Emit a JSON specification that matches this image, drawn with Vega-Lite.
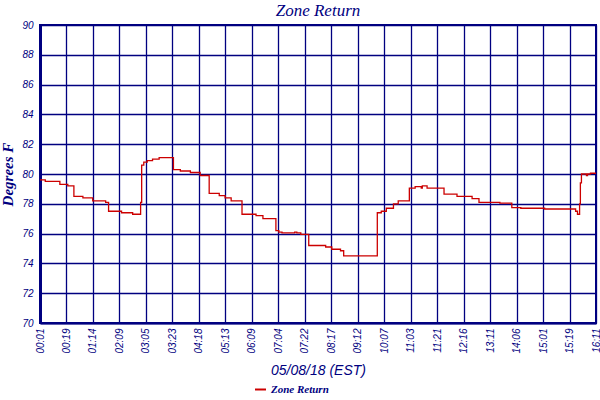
{
  "$schema": "https://vega.github.io/schema/vega-lite/v6.json",
  "width": 556,
  "height": 298,
  "autosize": {"type": "none"},
  "padding": {"left": 40, "top": 25, "right": 4, "bottom": 77},
  "background": "white",
  "title": {
    "text": "Zone Return",
    "font": "Liberation Serif",
    "fontSize": 17,
    "fontStyle": "italic",
    "fontWeight": "normal",
    "color": "#000080",
    "offset": 0
  },
  "config": {
    "view": {"stroke": "#000080", "strokeWidth": 2},
    "axis": {
      "labelFont": "Liberation Sans",
      "labelFontStyle": "italic",
      "labelColor": "#000080",
      "labelFontSize": 10,
      "titleColor": "#000080",
      "titleFontStyle": "italic",
      "titleFontWeight": "bold",
      "gridColor": "#000080",
      "gridOpacity": 1,
      "gridWidth": 1.3,
      "tickSize": 0,
      "domainColor": "#000080"
    }
  },
  "data": {
    "values": [
      {"t": 0, "v": 79.6},
      {"t": 0.2, "v": 79.5},
      {"t": 0.75, "v": 79.3},
      {"t": 1.05, "v": 79.2},
      {"t": 1.28, "v": 78.5},
      {"t": 1.62, "v": 78.4},
      {"t": 1.99, "v": 78.2},
      {"t": 2.48, "v": 78.1},
      {"t": 2.59, "v": 77.5},
      {"t": 3.08, "v": 77.4},
      {"t": 3.5, "v": 77.3},
      {"t": 3.8, "v": 78.1},
      {"t": 3.84, "v": 80.6},
      {"t": 3.92, "v": 80.8},
      {"t": 4.05, "v": 80.9},
      {"t": 4.25, "v": 81.0},
      {"t": 4.5, "v": 81.1},
      {"t": 5.04, "v": 80.3},
      {"t": 5.3, "v": 80.2},
      {"t": 5.68, "v": 80.1},
      {"t": 6.05, "v": 79.9},
      {"t": 6.39, "v": 78.7},
      {"t": 6.77, "v": 78.55},
      {"t": 6.99, "v": 78.4},
      {"t": 7.22, "v": 78.2},
      {"t": 7.63, "v": 77.3},
      {"t": 8.16, "v": 77.2},
      {"t": 8.42, "v": 77.0},
      {"t": 8.91, "v": 76.2},
      {"t": 9.02, "v": 76.1},
      {"t": 9.14, "v": 76.05},
      {"t": 9.62, "v": 76.1},
      {"t": 9.7, "v": 76.05},
      {"t": 9.85, "v": 75.95},
      {"t": 10.15, "v": 75.2},
      {"t": 10.79, "v": 75.1},
      {"t": 11.02, "v": 74.95},
      {"t": 11.35, "v": 74.85},
      {"t": 11.47, "v": 74.5},
      {"t": 12.74, "v": 77.4},
      {"t": 12.89, "v": 77.5},
      {"t": 13.08, "v": 77.7},
      {"t": 13.35, "v": 78.0},
      {"t": 13.53, "v": 78.2},
      {"t": 13.95, "v": 79.05},
      {"t": 14.17, "v": 79.15},
      {"t": 14.4, "v": 79.05},
      {"t": 14.44, "v": 79.2},
      {"t": 14.62, "v": 79.05},
      {"t": 15.26, "v": 78.65},
      {"t": 15.75, "v": 78.5},
      {"t": 16.32, "v": 78.35},
      {"t": 16.58, "v": 78.1},
      {"t": 17.37, "v": 78.05},
      {"t": 17.82, "v": 77.75},
      {"t": 18.16, "v": 77.7},
      {"t": 19.06, "v": 77.65},
      {"t": 20.23, "v": 77.5},
      {"t": 20.3, "v": 77.3},
      {"t": 20.38, "v": 78.0},
      {"t": 20.41, "v": 79.4},
      {"t": 20.45, "v": 80.0},
      {"t": 20.64, "v": 79.9},
      {"t": 20.68, "v": 80.0},
      {"t": 20.79, "v": 80.05},
      {"t": 21, "v": 80.05}
    ]
  },
  "mark": {"type": "line", "interpolate": "step-after", "strokeWidth": 1.3},
  "encoding": {
    "x": {
      "field": "t",
      "type": "quantitative",
      "scale": {"domain": [0, 21], "nice": false, "zero": false},
      "axis": {
        "values": [0, 1, 2, 3, 4, 5, 6, 7, 8, 9, 10, 11, 12, 13, 14, 15, 16, 17, 18, 19, 20, 21],
        "labelExpr": "['00:01','00:19','01:14','02:09','03:05','03:23','04:18','05:13','06:09','07:04','07:22','08:17','09:12','10:07','11:03','11:21','12:16','13:11','14:06','15:01','15:19','16:11'][datum.value]",
        "labelAngle": 270,
        "labelAlign": "right",
        "labelBaseline": "middle",
        "labelPadding": 5,
        "labelFlush": false,
        "labelOverlap": false,
        "domainWidth": 2,
        "title": "05/08/18 (EST)",
        "titleFont": "Liberation Sans",
        "titleFontSize": 14,
        "titleFontWeight": "normal",
        "titlePadding": 10
      }
    },
    "y": {
      "field": "v",
      "type": "quantitative",
      "scale": {"domain": [70, 90], "nice": false, "zero": false},
      "axis": {
        "values": [70, 72, 74, 76, 78, 80, 82, 84, 86, 88, 90],
        "labelPadding": 7,
        "labelFlush": false,
        "domainWidth": 3,
        "title": "Degrees F",
        "titleFont": "Liberation Serif",
        "titleFontSize": 15,
        "titlePadding": 6
      }
    },
    "color": {
      "datum": "Zone Return",
      "type": "nominal",
      "scale": {"range": ["#cc0000"]},
      "legend": {
        "title": null,
        "orient": "none",
        "legendX": 214,
        "legendY": 358,
        "symbolType": "stroke",
        "symbolSize": 120,
        "symbolStrokeWidth": 2,
        "labelFont": "Liberation Serif",
        "labelFontStyle": "italic",
        "labelFontWeight": "bold",
        "labelFontSize": 11,
        "labelColor": "#000080"
      }
    }
  }
}
